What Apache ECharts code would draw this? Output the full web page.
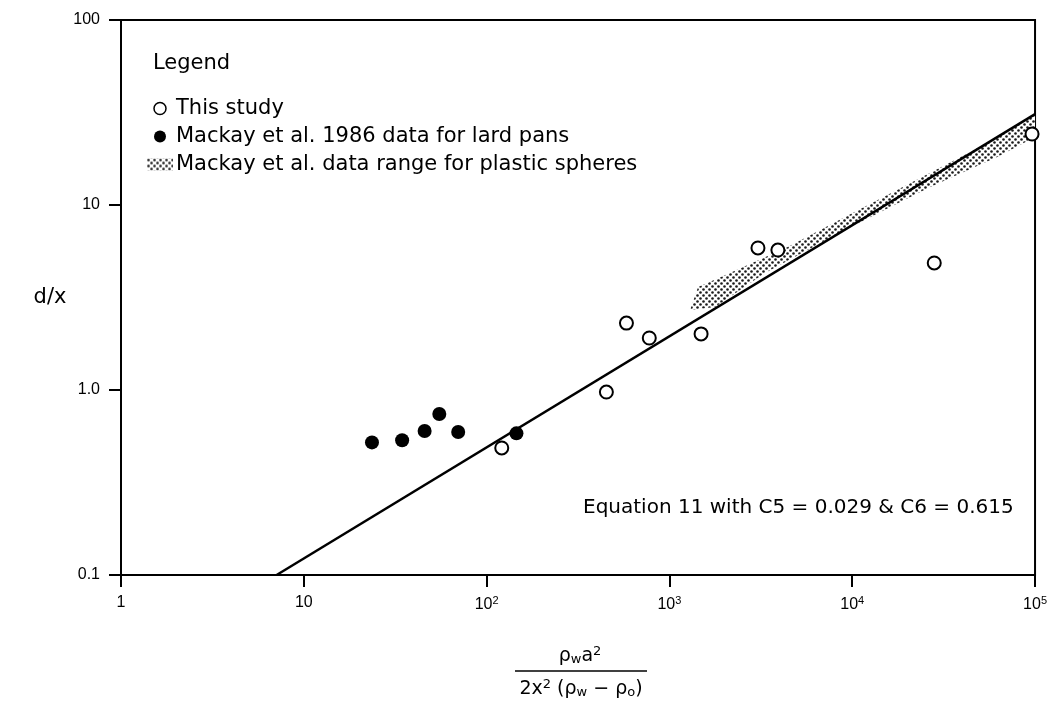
<!DOCTYPE html>
<html>
<head>
<meta charset="utf-8">
<script src="https://cdn.jsdelivr.net/npm/echarts@6/dist/echarts.min.js"></script>
<style>
html,body{margin:0;padding:0;background:#fff;}
#chart{width:1050px;height:701px;}
</style>
</head>
<body>
<div id="chart"></div>
<script>
// ---- data ----
const thisStudyX = [121, 452, 582, 776, 1490, 3050, 3920, 28100, 96300];
const thisStudyY = [0.486, 0.975, 2.30, 1.91, 2.01, 5.86, 5.71, 4.86, 24.2];

const mackayLardX = [23.6, 34.5, 45.8, 55.1, 69.9, 145.6];
const mackayLardY = [0.521, 0.535, 0.600, 0.742, 0.593, 0.583];

// range band for plastic spheres (upper edge left->right, lower edge right->left)
const bandUpperX = [1298, 1435, 1915, 4440, 10300, 46500, 100000];
const bandUpperY = [2.71, 3.60, 4.08, 5.93, 9.17, 19.8, 30.6];
const bandLowerX = [100000, 62100, 26700, 9090, 3330, 1780];
const bandLowerY = [23.3, 18.2, 12.5, 7.32, 4.29, 2.81];

// Equation 11 line endpoints
const fitLineX = [7.1, 100000];
const fitLineY = [0.1, 31];

const xTickLabels = ['1', '10', '10^2', '10^3', '10^4', '10^5'];
const yTickLabels = ['0.1', '1.0', '10', '100'];

const seriesNames = ['This study', 'Mackay et al. 1986 data for lard pans', 'Mackay et al. data range for plastic spheres'];

// ---- build ----
function zip(xs, ys){ return xs.map((x,i)=>[x, ys[i]]); }
const bandPoints = zip(bandUpperX, bandUpperY).concat(zip(bandLowerX, bandLowerY));

function makePattern(){
  const c = document.createElement('canvas');
  c.width = 6; c.height = 6;
  const g = c.getContext('2d');
  g.fillStyle = '#ffffff'; g.fillRect(0,0,6,6);
  g.fillStyle = '#1a1a1a';
  g.beginPath(); g.arc(1.5,1.5,1.3,0,Math.PI*2); g.fill();
  g.beginPath(); g.arc(4.5,4.5,1.3,0,Math.PI*2); g.fill();
  return c;
}
const pattern = {image: makePattern(), repeat: 'repeat'};

const FONT = 'DejaVu Sans';
const TFONT = 'Liberation Sans';

const chart = echarts.init(document.getElementById('chart'), null, {renderer: 'canvas'});

const option = {
  backgroundColor: '#ffffff',
  animation: false,
  textStyle: {fontFamily: FONT, color: '#000'},
  grid: {left: 121, right: 11, top: 20, bottom: 126, show: true, borderColor: '#000', borderWidth: 2, backgroundColor: 'transparent'},
  xAxis: {
    type: 'log', logBase: 10, min: 1, max: 100000,
    axisLine: {show: true, lineStyle: {color: '#000', width: 2}},
    axisTick: {show: true, length: 12, lineStyle: {color: '#000', width: 2}},
    minorTick: {show: false},
    splitLine: {show: false},
    axisLabel: {
      margin: 20, color: '#000', fontFamily: TFONT, fontSize: 16,
      formatter: function(v){
        const k = Math.round(Math.log10(v));
        const s = xTickLabels[k] || '';
        if (s.indexOf('^') >= 0) { const p = s.split('^'); return p[0] + '{s|' + p[1] + '}'; }
        return s;
      },
      rich: {s: {fontSize: 11, fontFamily: TFONT, color: '#000', verticalAlign: 'top', padding: [0,0,8,0]}}
    }
  },
  yAxis: {
    type: 'log', logBase: 10, min: 0.1, max: 100,
    axisLine: {show: true, lineStyle: {color: '#000', width: 2}},
    axisTick: {show: true, length: 12, lineStyle: {color: '#000', width: 2}},
    minorTick: {show: false},
    splitLine: {show: false},
    axisLabel: {
      margin: 21, color: '#000', fontFamily: TFONT, fontSize: 16,
      formatter: function(v){
        const k = Math.round(Math.log10(v)) + 1;
        return yTickLabels[k] || '';
      }
    }
  },
  legend: {
    show: true, orient: 'vertical', left: 142, top: 93,
    itemWidth: 26, itemHeight: 12, itemGap: 7,
    textStyle: {fontFamily: FONT, fontSize: 21, color: '#000', padding: [0,0,0,-2]},
    selectedMode: false,
    data: [
      {name: seriesNames[0], icon: 'circle', itemStyle: {color: '#fff', borderColor: '#000', borderWidth: 1.5}},
      {name: seriesNames[1], icon: 'circle', itemStyle: {color: '#000'}},
      {name: seriesNames[2], icon: 'rect', itemStyle: {color: pattern, borderWidth: 0}}
    ]
  },
  series: [
    {
      name: seriesNames[2], type: 'custom', z: 1,
      itemStyle: {color: pattern},
      data: [bandPoints[0]],
      renderItem: function(params, api){
        const pts = bandPoints.map(p => api.coord(p));
        return {type: 'polygon', shape: {points: pts}, style: {fill: pattern, stroke: null}};
      }
    },
    {
      name: 'Equation 11', type: 'line', z: 3,
      data: zip(fitLineX, fitLineY), showSymbol: false, symbol: 'none',
      lineStyle: {color: '#000', width: 2.5}
    },
    {
      name: seriesNames[0], type: 'scatter', z: 4,
      data: zip(thisStudyX, thisStudyY), symbol: 'circle', symbolSize: 13,
      itemStyle: {color: '#fff', borderColor: '#000', borderWidth: 2, opacity: 1}
    },
    {
      name: seriesNames[1], type: 'scatter', z: 4,
      data: zip(mackayLardX, mackayLardY), symbol: 'circle', symbolSize: 14,
      itemStyle: {color: '#000', opacity: 1}
    }
  ],
  graphic: [
    {type: 'text', left: 153, top: 53, style: {text: 'Legend', fontFamily: FONT, fontSize: 21, fill: '#000'}},
    {type: 'text', x: 50, y: 298, style: {text: 'd/x', fontFamily: FONT, fontSize: 21, fill: '#000', align: 'center', verticalAlign: 'middle'}},
    {type: 'text', x: 583, y: 508, style: {text: 'Equation 11 with C5 = 0.029 & C6 = 0.615', fontFamily: FONT, fontSize: 20, fill: '#000', align: 'left', verticalAlign: 'middle'}},
    {type: 'text', x: 580, y: 656, style: {
      text: 'ρ{b|w}a{p|2}', fontFamily: FONT, fontSize: 19, fill: '#000', align: 'center', verticalAlign: 'middle',
      rich: {b: {fontSize: 13, fontFamily: FONT, verticalAlign: 'bottom', padding: [6,0,0,0]}, p: {fontSize: 13, fontFamily: FONT, verticalAlign: 'top', padding: [0,0,8,0]}}
    }},
    {type: 'line', shape: {x1: 515, y1: 671, x2: 647, y2: 671}, style: {stroke: '#000', lineWidth: 1.5}},
    {type: 'text', x: 581, y: 689, style: {
      text: '2x{p|2} (ρ{b|w} − ρ{b|o})', fontFamily: FONT, fontSize: 19, fill: '#000', align: 'center', verticalAlign: 'middle',
      rich: {b: {fontSize: 13, fontFamily: FONT, verticalAlign: 'bottom', padding: [6,0,0,0]}, p: {fontSize: 13, fontFamily: FONT, verticalAlign: 'top', padding: [0,0,8,0]}}
    }}
  ]
};
chart.setOption(option);
</script>
</body>
</html>
